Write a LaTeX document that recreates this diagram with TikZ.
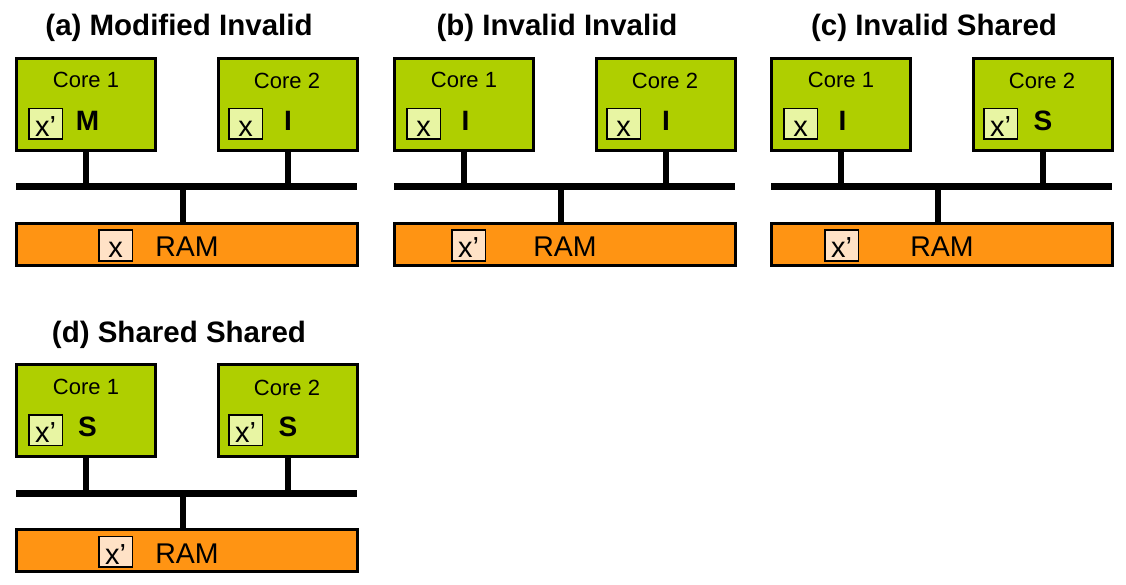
\documentclass[tikz,border=0pt]{standalone}
\usepackage{fontspec}
\setmainfont{Liberation Sans}

\definecolor{coregreen}{HTML}{AFCF00}
\definecolor{ramorange}{HTML}{FF9413}
\definecolor{cachegreen}{HTML}{E8F5A3}
\definecolor{ramcell}{HTML}{FFE2C6}

\tikzset{
  corebox/.style={draw=black, line width=3pt, fill=coregreen, minimum width=139pt, minimum height=92pt, inner sep=0pt},
  rambox/.style={draw=black, line width=3pt, fill=ramorange, minimum width=341pt, minimum height=42pt, inner sep=0pt},
  cellbox/.style={draw=black, line width=1.5pt, fill=cachegreen, minimum width=33.5pt, minimum height=30.5pt,
    inner sep=0pt, text height=25pt, text depth=0pt, font=\fontsize{29}{29}\selectfont},
  ramcellbox/.style={cellbox, fill=ramcell},
  bus/.style={line width=7pt},
  stem/.style={line width=6pt},
  paneltitle/.style={anchor=base, font=\bfseries\fontsize{29.5}{30}\selectfont},
  corelabel/.style={anchor=base, font=\fontsize{22}{24}\selectfont},
  statelabel/.style={anchor=base, font=\bfseries\fontsize{28}{28}\selectfont},
  ramlabel/.style={anchor=base, font=\fontsize{28.5}{30}\selectfont}
}

% #1 prefix, #2 shift, #3 title, #4/#5 core 1 value/state, #6/#7 core 2 value/state, #8 RAM value, #9 x of RAM cell
\newcommand{\mesipanel}[9]{%
  \begin{scope}[shift={#2}]
    \node[paneltitle] (#1title) at (179,36) {#3};
    % two cores with their cache line
    \node[corebox] (#1core1) at (86,104.5) {};
    \node[corebox] (#1core2) at (287.5,104.5) {};
    \node[corelabel] (#1name1) at (86,88) {Core 1};
    \node[corelabel] (#1name2) at (287,89) {Core 2};
    \node[cellbox] (#1cell1) at (45.5,124) {#4};
    \node[cellbox] (#1cell2) at (245.5,124) {#6};
    \node[statelabel] (#1state1) at (87.5,130.5) {#5};
    \node[statelabel] (#1state2) at (288,130.5) {#7};
    % shared bus
    \coordinate (#1busL) at (16,187);
    \coordinate (#1busR) at (357,187);
    \coordinate (#1busM) at (183,187);
    \draw[bus] (#1busL) -- (#1busR);
    \draw[stem] (#1core1.south) -- (#1core1.south |- #1busL);
    \draw[stem] (#1core2.south) -- (#1core2.south |- #1busL);
    % memory
    \node[rambox] (#1ram) at (187,244.5) {};
    \draw[stem] (#1busM) -- (#1busM |- #1ram.north);
    \node[ramcellbox] (#1cell3) at (#9,245.5) {#8};
    \node[ramlabel] (#1ramname) at (187,257) {RAM};
  \end{scope}%
}

\begin{document}
\begin{tikzpicture}[x=1pt, y=-1pt]
  \useasboundingbox (0,0) rectangle (1126,585);
  \mesipanel{a}{(0,0)}{(a) Modified Invalid}{x’}{M}{x}{I}{x}{115.5}
  \mesipanel{b}{(378,0)}{(b) Invalid Invalid}{x}{I}{x}{I}{x’}{90.5}
  \mesipanel{c}{(755,0)}{(c) Invalid Shared}{x}{I}{x’}{S}{x’}{86.5}
  \mesipanel{d}{(0,306)}{(d) Shared Shared}{x’}{S}{x’}{S}{x’}{115.5}
\end{tikzpicture}
\end{document}
